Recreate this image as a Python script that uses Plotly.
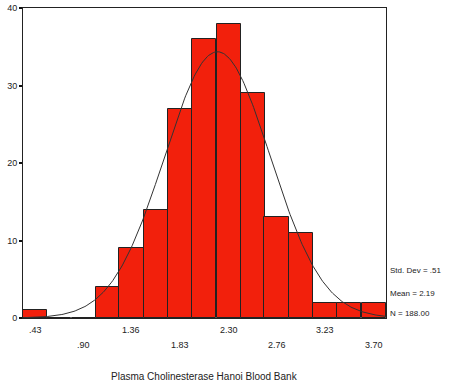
import plotly.graph_objects as go
import numpy as np

bin_centers = [0.43, 0.66, 0.90, 1.13, 1.36, 1.60, 1.83, 2.06, 2.30, 2.53, 2.76, 3.00, 3.23, 3.46, 3.70]
counts = [1, 0, 0, 4, 9, 14, 27, 36, 38, 29, 13, 11, 2, 2, 2]
tick_vals = [0.43, 0.90, 1.36, 1.83, 2.30, 2.76, 3.23, 3.70]
tick_labels = [".43", ".90", "1.36", "1.83", "2.30", "2.76", "3.23", "3.70"]
stats_labels = ["Std. Dev = .51", "Mean = 2.19", "N = 188.00"]
mean, sd, n = 2.19, 0.51, 188
bin_width = 0.2336

xmin = bin_centers[0] - bin_width / 2
xmax = bin_centers[-1] + bin_width / 2
xs = np.linspace(xmin, xmax, 300)
ys = n * bin_width / (sd * np.sqrt(2 * np.pi)) * np.exp(-0.5 * ((xs - mean) / sd) ** 2)

fig = go.Figure()
fig.add_trace(go.Bar(x=bin_centers, y=counts, width=bin_width,
                     marker=dict(color="#F2200C", line=dict(color="#222222", width=1))))
fig.add_trace(go.Scatter(x=xs, y=ys, mode="lines", line=dict(color="#333333", width=1)))

font = dict(family="Liberation Sans, Arial", size=9, color="#222222")
fig.update_layout(
    width=450, height=386, margin=dict(l=23, r=64, t=8, b=68, autoexpand=False),
    paper_bgcolor="white", plot_bgcolor="white", showlegend=False, bargap=0,
    font=font,
    xaxis=dict(range=[xmin, xmax], tickvals=tick_vals, showticklabels=False, showgrid=False,
               zeroline=False, showline=True, linecolor="#222222", linewidth=1, mirror=True,
               ticks="", automargin=False),
    yaxis=dict(range=[0, 40], tickvals=[0, 10, 20, 30, 40], showgrid=False, zeroline=False,
               showline=True, linecolor="#222222", linewidth=1, mirror=True,
               ticks="outside", ticklen=3, tickwidth=2, tickcolor="#111111", tickfont=font,
               automargin=False),
)
for i, (v, t) in enumerate(zip(tick_vals, tick_labels)):
    fig.add_annotation(x=v, xref="x", y=-0.039 if i % 2 == 0 else -0.087, yref="paper",
                       text=t, showarrow=False, xanchor="center", yanchor="middle", font=font)
for i, t in enumerate(stats_labels):
    fig.add_annotation(x=1.005, xref="paper", y=[0.154, 0.08, 0.016][i], yref="paper",
                       text=t, showarrow=False, xanchor="left", yanchor="middle",
                       font=dict(family="Liberation Sans, Arial", size=8, color="#222222"))
fig.add_annotation(x=0.5, xref="paper", y=-0.19, yref="paper", yanchor="middle",
                   text="Plasma Cholinesterase Hanoi Blood Bank", showarrow=False,
                   font=dict(family="Liberation Sans, Arial", size=10, color="#222222"))
fig.write_html("out.html", post_script="document.body.style.margin='0';",
               config={"displayModeBar": False})
